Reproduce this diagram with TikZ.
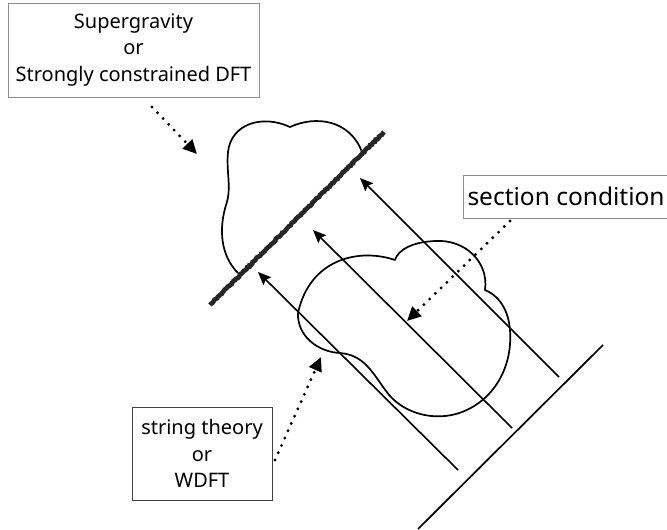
\documentclass[tikz,border=0pt]{standalone}
\usepackage{fontspec}
\setmainfont{Noto Sans}
\usetikzlibrary{arrows.meta,decorations.pathmorphing}
\begin{document}
\begin{tikzpicture}[x=1pt,y=-1pt,
  box/.style={draw=#1, line width=1pt, align=center, inner sep=0pt,
    font=\fontsize{20}{26.5}\selectfont},
  cloudline/.style={line width=1.7pt, line join=round},
  ray/.style={line width=1.6pt, -{Stealth[length=13pt,width=11pt,inset=2pt]}},
  pointer/.style={line width=3.2pt, line cap=round, dash pattern=on 0pt off 8pt,
    -{Triangle[length=14pt,width=13pt]}},
  brane/.style={line width=4.6pt, draw=black!85, decorate,
    decoration={random steps, segment length=1.6pt, amplitude=0.6pt}},
  baseline/.style={line width=1.7pt}
]
\useasboundingbox (0,0) rectangle (667,530);
\pgfmathsetseed{7}

% boxes
\node[box=black!45, minimum width=251pt, minimum height=94pt] (sugra) at (133.5,50)
  {Supergravity\\or\\Strongly constrained DFT};
\node[box=black!45, anchor=west, inner xsep=4pt, minimum height=43pt,
  font=\fontsize{24.5}{28}\selectfont] (sec) at (463,196.5)
  {section condition};
\node[box=black!75, minimum width=140pt, minimum height=93pt] (str) at (202,453.5)
  {string theory\\or\\WDFT};

% coordinates
\coordinate (b1) at (210,305);
\coordinate (b2) at (384,132);
\coordinate (g1) at (603,345);
\coordinate (g2) at (418,529);
\coordinate (r1s) at (559,377); \coordinate (r1e) at (360,178);
\coordinate (r2s) at (512,428); \coordinate (r2e) at (313,230);
\coordinate (r3s) at (458,470); \coordinate (r3e) at (258,272);
\coordinate (p1s) at (152,107); \coordinate (p1e) at (197,154);
\coordinate (p2s) at (510,221); \coordinate (p2e) at (407,321);
\coordinate (p3s) at (275,460); \coordinate (p3e) at (321,357);

% upper cloud (cut by the brane)
\draw[cloudline] (238,273) .. controls (220,255) and (219,228) .. (226,205)
  .. controls (232,188) and (226,172) .. (228,152)
  .. controls (231,124) and (262,114) .. (290,127)
  .. controls (316,115) and (350,120) .. (362,152);

% lower cloud
\draw[cloudline] (298,313) .. controls (297,336) and (318,352) .. (340,353)
  .. controls (364,355) and (372,372) .. (386,391)
  .. controls (401,412) and (430,421) .. (456,414)
  .. controls (491,404) and (513,370) .. (510,330)
  .. controls (508,305) and (495,294) .. (485,290)
  .. controls (489,262) and (465,239) .. (435,241)
  .. controls (412,242) and (398,250) .. (395,260)
  .. controls (360,248) and (310,258) .. (298,313) -- cycle;

% base line and rays
\draw[baseline] (g1) -- (g2);
\draw[ray] (r1s) -- (r1e);
\draw[ray] (r2s) -- (r2e);
\draw[ray] (r3s) -- (r3e);

% brane
\draw[brane] (b1) -- (b2);

% dotted pointers
\draw[pointer] (p1s) -- (p1e);
\draw[pointer] (p2s) -- (p2e);
\draw[pointer] (p3s) -- (p3e);
\end{tikzpicture}
\end{document}
